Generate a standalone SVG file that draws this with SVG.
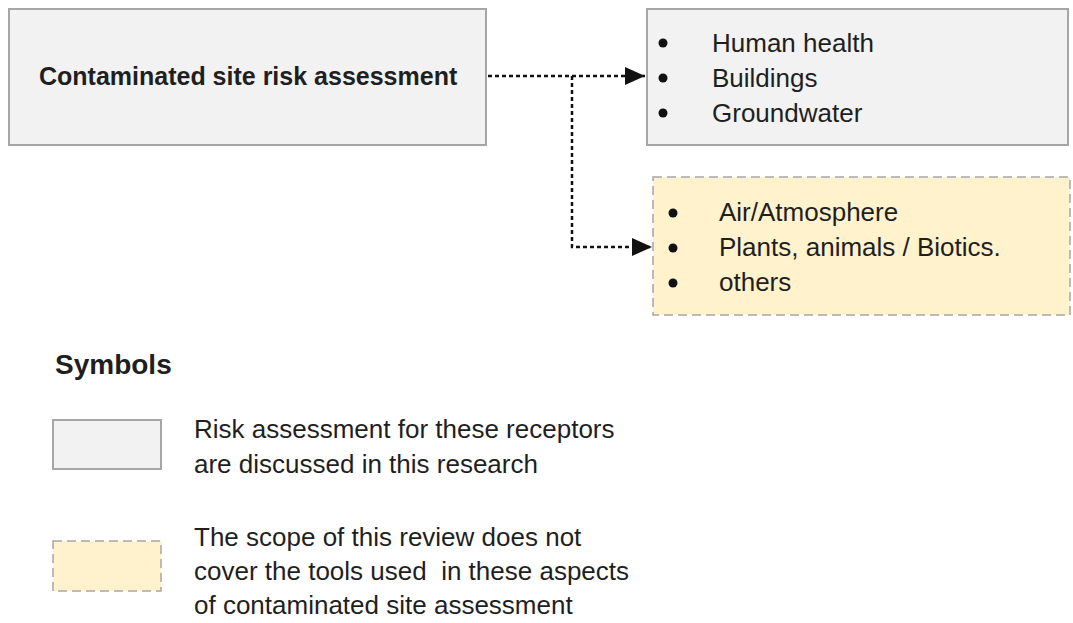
<svg xmlns="http://www.w3.org/2000/svg" width="1073" height="623" viewBox="0 0 1073 623">
  <style>
    text { font-family: "Liberation Sans", Arial, sans-serif; fill: #1f1f1f; }
    .reg { font-size: 26px; }
    .bold { font-size: 25px; font-weight: bold; }
    .title { font-size: 28px; font-weight: bold; }
    .pre { white-space: pre; }
    .grey { fill: #f2f2f2; stroke: #a6a6a6; stroke-width: 2; }
    .gold { fill: #fff2cc; stroke: #a6a6a6; stroke-width: 1.5; stroke-dasharray: 9 5; }
    .conn { fill: none; stroke: #111; stroke-width: 2.5; stroke-dasharray: 4 3; }
    .dot { fill: #111; }
  </style>
  <defs>
    <marker id="arrow" markerUnits="userSpaceOnUse" markerWidth="20" markerHeight="18" refX="20" refY="9" orient="auto">
      <path d="M0,0 L20,9 L0,18 Z" fill="#111"/>
    </marker>
  </defs>
  <rect width="1073" height="623" fill="#ffffff"/>

  <g id="assessment">
    <rect class="grey" x="9" y="9" width="477" height="136"/>
    <text class="bold" x="39" y="85">Contaminated site risk assessment</text>
  </g>

  <g id="covered-receptors">
    <rect class="grey" x="647" y="9" width="421" height="136"/>
    <circle class="dot" cx="663" cy="43" r="4.5"/>
    <circle class="dot" cx="663" cy="78" r="4.5"/>
    <circle class="dot" cx="663" cy="113" r="4.5"/>
    <text class="reg" x="712" y="52">Human health</text>
    <text class="reg" x="712" y="87">Buildings</text>
    <text class="reg" x="712" y="122">Groundwater</text>
  </g>

  <g id="other-receptors">
    <rect class="gold" x="653" y="177" width="417" height="138"/>
    <circle class="dot" cx="673" cy="213" r="4.5"/>
    <circle class="dot" cx="673" cy="248" r="4.5"/>
    <circle class="dot" cx="673" cy="283" r="4.5"/>
    <text class="reg" x="719" y="221">Air/Atmosphere</text>
    <text class="reg" x="719" y="256">Plants, animals / Biotics.</text>
    <text class="reg" x="719" y="291">others</text>
  </g>

  <g id="connectors">
    <path class="conn" d="M488,76 H645" marker-end="url(#arrow)"/>
    <path class="conn" d="M572,76 V247 H652" marker-end="url(#arrow)"/>
  </g>

  <g id="legend">
    <text class="title" x="55" y="374">Symbols</text>
    <rect class="grey" x="53" y="420" width="108" height="49"/>
    <text class="reg" x="194" y="438">Risk assessment for these receptors</text>
    <text class="reg" x="194" y="473">are discussed in this research</text>
    <rect class="gold" x="53" y="541" width="108" height="50"/>
    <text class="reg" x="194" y="546">The scope of this review does not</text>
    <text class="reg pre" x="194" y="580" xml:space="preserve">cover the tools used  in these aspects</text>
    <text class="reg" x="194" y="614">of contaminated site assessment</text>
  </g>
</svg>
